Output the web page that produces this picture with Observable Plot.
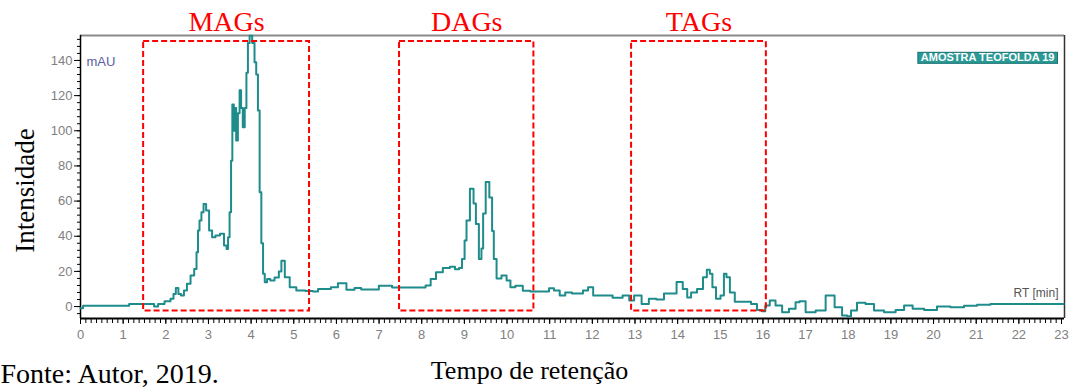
<!DOCTYPE html>
<html><head><meta charset="utf-8">
<script src="https://cdn.jsdelivr.net/npm/d3@7"></script>
<script src="https://cdn.jsdelivr.net/npm/@observablehq/plot@0.6"></script>
<style>
body{margin:0;background:#fff;}
#chart{width:1069px;height:390px;overflow:hidden;position:relative}
</style>
</head><body><div id="chart"></div>
<script>
// Retention time (min) and intensity (mAU)
const time = [0,0.12,1.13,1.15,1.69,1.76,1.88,2.06,2.16,2.20,2.27,2.32,2.39,2.46,2.53,2.63,2.70,2.74,2.77,2.81,2.86,2.91,2.98,3.05,3.12,3.21,3.33,3.40,3.45,3.47,3.52,3.54,3.58,3.61,3.63,3.67,3.71,3.75,3.78,3.83,3.87,3.91,3.94,3.99,4.06,4.10,4.14,4.18,4.22,4.26,4.30,4.34,4.41,4.49,4.61,4.69,4.73,4.85,4.96,5.16,5.39,5.51,5.63,5.81,5.93,6.14,6.33,6.52,6.64,6.96,7.03,7.27,7.34,8.04,8.14,8.28,8.39,8.60,8.72,8.84,8.91,8.98,9.03,9.07,9.19,9.24,9.30,9.38,9.42,9.46,9.54,9.63,9.67,9.71,9.80,9.94,10.04,10.12,10.27,10.47,10.62,10.95,11.02,11.18,11.29,11.44,11.61,11.72,11.84,11.96,12.08,12.36,12.59,12.83,12.90,13.06,13.25,13.40,13.60,13.76,13.90,14.05,14.19,14.26,14.37,14.54,14.65,14.72,14.79,14.84,14.96,15.05,15.12,15.17,15.28,15.40,15.66,15.78,15.94,16.01,16.10,16.22,16.37,16.53,16.69,16.84,16.88,17.12,17.35,17.59,17.77,17.94,18.01,18.12,18.29,18.52,18.69,18.99,19.23,19.39,19.63,19.93,20.23,20.56,20.87,21.17,21.50,22.11,23.05];
const intensity = [-1,0.5,0.5,1.5,1.5,0,1.5,3,4.4,7.2,10.6,7.2,6.3,9.1,12.9,17.6,21.4,30.9,43.3,48.9,53.7,58.4,54.6,43.3,39.4,40.4,41.4,34.7,32.8,39.4,53.7,83,115,100,113,94.5,110,123,113,102,113,133,150,154,150,139,132,111.5,65,36,18.7,13.8,15.7,14.8,16.5,20,26,16.7,11,9.1,8.8,8.5,10,10,11,13.3,9.5,10.5,9.7,9.7,11.8,11.8,10.8,10.8,12,15.7,19.5,22,22.6,21.2,22,27,37.6,49,67,58.6,47,27,33,53,70.8,62,43,27,15.9,17.6,14.8,11,11.8,9,8.5,8.5,10.4,9.1,6.3,8,7.4,7.4,9.1,11,6.3,6.3,5,6.3,3.4,6.3,1.5,4.4,4,7.4,7.4,13.9,10,5.1,8,10,16.7,20.9,18.6,11,4.4,6.3,18.6,16.7,8,2.8,2.8,1.5,-1.9,-2.7,0.6,3.4,0.6,-3.2,-1.3,2.5,3,-3.2,-2.3,6.3,-0.4,-5.1,-5.5,-2.3,2.1,1.5,-2.3,-3.2,-1.9,0.6,-1.3,-1.9,0,-0.4,0.4,1,1.5,1.5,1.5];

// Highlighted lipid classes (retention-time windows)
const regionNames = ["MAGs", "DAGs", "TAGs"];
const regionStart = [1.48, 7.48, 12.92];
const regionEnd = [5.37, 10.63, 16.08];
const regionLow = -2.6;
const regionHigh = 150.8;

// Axes
const xDomain = [0, 23.07];
const yDomain = [-6.8, 154.2];
const xTicks = d3.range(0, 24);
const xMinorTicks = d3.range(0, 23.07, 0.125);
const yTicks = [0, 20, 40, 60, 80, 100, 120, 140];
const yMinorTicks = d3.range(-4, 154, 4);

const xTitle = "Tempo de retenção";
const yTitle = "Intensidade";
const unitLabel = "mAU";
const rtLabel = "RT [min]";
const sampleName = "AMOSTRA TEOFOLDA 19";
const sourceNote = "Fonte: Autor, 2019.";

const trace = time.map((t, i) => ({t, v: intensity[i]}));
const regions = regionNames.map((name, i) => ({name, start: regionStart[i], end: regionEnd[i]}));

const serif = "'Liberation Serif', 'DejaVu Serif', serif";
const sans = "'Liberation Sans', 'DejaVu Sans', sans-serif";
const teal = "#1e8c8a";

const chart = Plot.plot({
  width: 1069,
  height: 390,
  marginLeft: 80,
  marginRight: 5,
  marginTop: 35,
  marginBottom: 72,
  style: {background: "#fff", overflow: "visible"},
  x: {domain: xDomain, axis: null},
  y: {domain: yDomain, axis: null},
  marks: [
    // minor ticks
    Plot.axisX({ticks: xMinorTicks, tickSize: 5, fill: "none", stroke: "#000", anchor: "bottom"}),
    Plot.axisY({ticks: yMinorTicks.filter(d => d >= yDomain[0]), tickSize: 3, fill: "none", stroke: "#000", anchor: "left"}),
    // major ticks + labels
    Plot.axisX({ticks: xTicks, tickSize: 6, tickPadding: 5, anchor: "bottom", label: null, stroke: "#000", fill: "#808080",
      fontSize: 13, fontFamily: sans, tickFormat: d => String(d)}),
    Plot.axisY({ticks: yTicks, tickSize: 6, tickPadding: 2, anchor: "left", label: null, stroke: "#000", fill: "#808080",
      fontSize: 13, fontFamily: sans, tickFormat: d => String(d)}),
    // frame
    Plot.ruleY([yDomain[1]], {stroke: "#8a8a8a", strokeWidth: 2}),
    Plot.ruleX([xDomain[1]], {stroke: "#333", strokeWidth: 1.5}),
    Plot.ruleX([xDomain[0]], {stroke: "#000", strokeWidth: 1.5}),
    Plot.ruleY([yDomain[0]], {stroke: "#000", strokeWidth: 2}),
    // chromatogram
    Plot.line(trace, {x: "t", y: "v", stroke: teal, strokeWidth: 2, curve: "step"}),
    // region boxes
    Plot.rect(regions, {x1: "start", x2: "end", y1: regionLow, y2: regionHigh, fill: "none",
      stroke: "#ff0000", strokeWidth: 2, strokeDasharray: "6,3"}),
    Plot.text(regions, {x: d => (d.start + d.end) / 2, y: regionHigh, dy: -19, text: "name",
      fill: "#ff0000", fontSize: 28, fontFamily: serif}),
    // in-chart labels
    Plot.text([unitLabel], {frameAnchor: "top-left", dx: 6, dy: 21, textAnchor: "start", fill: "#5a5ea0", fontSize: 13, fontFamily: sans}),
    Plot.text([rtLabel], {frameAnchor: "bottom-right", dx: -6, dy: -22, textAnchor: "end", fill: "#555", fontSize: 12, fontFamily: sans}),
    Plot.text([sampleName], {frameAnchor: "top-right", dx: -10, dy: 18, textAnchor: "end", fill: "#fff", fontSize: 11,
      fontWeight: "bold", fontFamily: sans}),
    // titles
    Plot.text([yTitle], {frameAnchor: "left", dx: -55, dy: 13.5, rotate: -90, textAnchor: "middle", fill: "#000", fontSize: 27, fontFamily: serif}),
    Plot.text([xTitle], {frameAnchor: "bottom", dx: -43, dy: 60, textAnchor: "middle", fill: "#000", fontSize: 26, fontFamily: serif}),
    Plot.text([sourceNote], {frameAnchor: "bottom-left", dx: -80, dy: 45, lineAnchor: "top", textAnchor: "start", fill: "#000", fontSize: 28, fontFamily: serif})
  ]
});

document.getElementById("chart").appendChild(chart);

// teal box behind the sample name
const svg = d3.select(chart);
svg.selectAll("text").filter(function () { return this.textContent === sampleName; }).each(function () {
  const b = this.getBBox();
  const r = document.createElementNS("http://www.w3.org/2000/svg", "rect");
  r.setAttribute("x", b.x - 3);
  r.setAttribute("y", b.y + 1);
  r.setAttribute("width", b.width + 6);
  r.setAttribute("height", b.height - 1);
  const tr = this.getAttribute("transform");
  if (tr) r.setAttribute("transform", tr);
  r.setAttribute("fill", "#2b9a97");
  r.setAttribute("stroke", "#16706e");
  r.setAttribute("stroke-width", "1");
  this.parentNode.insertBefore(r, this);
});
</script>
</body></html>
